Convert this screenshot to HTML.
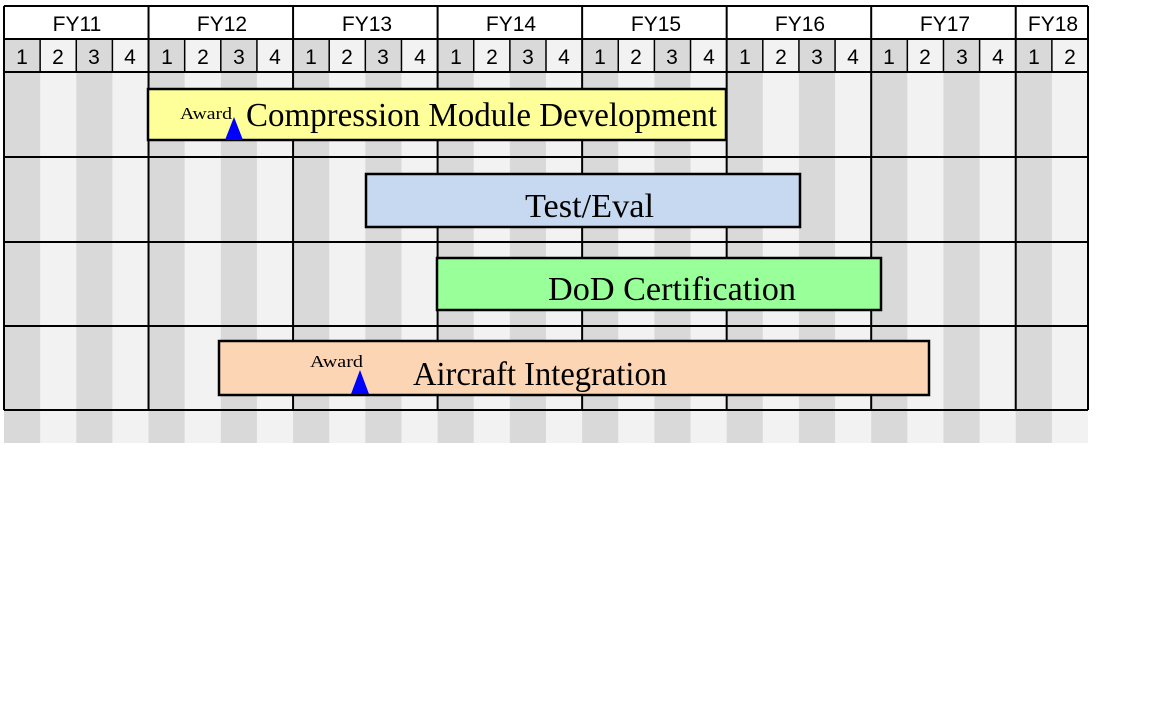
<!DOCTYPE html>
<html><head><meta charset="utf-8"><style>html,body{margin:0;padding:0;background:#fff;}svg{display:block;}</style></head>
<body>
<svg width="1152" height="720" xmlns="http://www.w3.org/2000/svg">
<rect x="0" y="0" width="1152" height="720" fill="#fff"/>
<rect x="4" y="39" width="1084" height="404" fill="#f2f2f2"/>
<g fill="#d9d9d9">
<rect x="4" y="39" width="36.13" height="404"/>
<rect x="76.27" y="39" width="36.13" height="404"/>
<rect x="148.53" y="39" width="36.13" height="404"/>
<rect x="220.8" y="39" width="36.13" height="404"/>
<rect x="293.07" y="39" width="36.13" height="404"/>
<rect x="365.33" y="39" width="36.13" height="404"/>
<rect x="437.6" y="39" width="36.13" height="404"/>
<rect x="509.87" y="39" width="36.13" height="404"/>
<rect x="582.13" y="39" width="36.13" height="404"/>
<rect x="654.4" y="39" width="36.13" height="404"/>
<rect x="726.67" y="39" width="36.13" height="404"/>
<rect x="798.93" y="39" width="36.13" height="404"/>
<rect x="871.2" y="39" width="36.13" height="404"/>
<rect x="943.47" y="39" width="36.13" height="404"/>
<rect x="1015.73" y="39" width="36.13" height="404"/>
</g>
<g stroke="#000" stroke-width="1.5">
<line x1="40.13" y1="39" x2="40.13" y2="72"/><line x1="76.27" y1="39" x2="76.27" y2="72"/><line x1="112.4" y1="39" x2="112.4" y2="72"/>
<line x1="184.67" y1="39" x2="184.67" y2="72"/><line x1="220.8" y1="39" x2="220.8" y2="72"/><line x1="256.93" y1="39" x2="256.93" y2="72"/>
<line x1="329.2" y1="39" x2="329.2" y2="72"/><line x1="365.33" y1="39" x2="365.33" y2="72"/><line x1="401.47" y1="39" x2="401.47" y2="72"/>
<line x1="473.73" y1="39" x2="473.73" y2="72"/><line x1="509.87" y1="39" x2="509.87" y2="72"/><line x1="546" y1="39" x2="546" y2="72"/>
<line x1="618.27" y1="39" x2="618.27" y2="72"/><line x1="654.4" y1="39" x2="654.4" y2="72"/><line x1="690.53" y1="39" x2="690.53" y2="72"/>
<line x1="762.8" y1="39" x2="762.8" y2="72"/><line x1="798.93" y1="39" x2="798.93" y2="72"/><line x1="835.07" y1="39" x2="835.07" y2="72"/>
<line x1="907.33" y1="39" x2="907.33" y2="72"/><line x1="943.47" y1="39" x2="943.47" y2="72"/><line x1="979.6" y1="39" x2="979.6" y2="72"/>
<line x1="1051.87" y1="39" x2="1051.87" y2="72"/>
</g>
<g stroke="#000" stroke-width="2">
<line x1="4" y1="6" x2="4" y2="410"/>
<line x1="148.53" y1="6" x2="148.53" y2="410"/>
<line x1="293.07" y1="6" x2="293.07" y2="410"/>
<line x1="437.6" y1="6" x2="437.6" y2="410"/>
<line x1="582.13" y1="6" x2="582.13" y2="410"/>
<line x1="726.67" y1="6" x2="726.67" y2="410"/>
<line x1="871.2" y1="6" x2="871.2" y2="410"/>
<line x1="1015.73" y1="6" x2="1015.73" y2="410"/>
<line x1="1088" y1="6" x2="1088" y2="410"/>
<line x1="4" y1="6" x2="1088" y2="6"/>
<line x1="4" y1="39" x2="1088" y2="39"/>
<line x1="4" y1="72" x2="1088" y2="72"/>
<line x1="4" y1="157" x2="1088" y2="157"/>
<line x1="4" y1="242" x2="1088" y2="242"/>
<line x1="4" y1="326" x2="1088" y2="326"/>
<line x1="4" y1="410" x2="1088" y2="410"/>
</g>
<g font-family="Liberation Sans, sans-serif" font-size="21" text-anchor="middle" fill="#000">
<text x="77" y="31">FY11</text><text x="222" y="31">FY12</text><text x="367" y="31">FY13</text><text x="511" y="31">FY14</text>
<text x="656" y="31">FY15</text><text x="800" y="31">FY16</text><text x="945" y="31">FY17</text><text x="1053" y="31">FY18</text>
</g>
<g font-family="Liberation Sans, sans-serif" font-size="21" text-anchor="middle" fill="#000">
<text x="22" y="64">1</text><text x="58" y="64">2</text><text x="94" y="64">3</text><text x="130" y="64">4</text>
<text x="167" y="64">1</text><text x="203" y="64">2</text><text x="239" y="64">3</text><text x="275" y="64">4</text>
<text x="311" y="64">1</text><text x="347" y="64">2</text><text x="383" y="64">3</text><text x="420" y="64">4</text>
<text x="456" y="64">1</text><text x="492" y="64">2</text><text x="528" y="64">3</text><text x="564" y="64">4</text>
<text x="600" y="64">1</text><text x="636" y="64">2</text><text x="672" y="64">3</text><text x="709" y="64">4</text>
<text x="745" y="64">1</text><text x="781" y="64">2</text><text x="817" y="64">3</text><text x="853" y="64">4</text>
<text x="889" y="64">1</text><text x="925" y="64">2</text><text x="962" y="64">3</text><text x="998" y="64">4</text>
<text x="1034" y="64">1</text><text x="1070" y="64">2</text>
</g>
<g stroke="#000" stroke-width="2.5">
<rect x="148" y="89" width="578" height="51" fill="#ffff99"/>
<rect x="366" y="174" width="434" height="53" fill="#c6d9f1"/>
<rect x="437" y="258" width="444" height="52" fill="#99ff99"/>
<rect x="219" y="341" width="710" height="54" fill="#fcd5b5"/>
</g>
<g font-family="Liberation Serif, serif" font-size="34" fill="#000">
<text x="246" y="126" textLength="471" lengthAdjust="spacingAndGlyphs">Compression Module Development</text>
<text x="525" y="217" textLength="129" lengthAdjust="spacingAndGlyphs">Test/Eval</text>
<text x="548" y="300" textLength="248" lengthAdjust="spacingAndGlyphs">DoD Certification</text>
<text x="413" y="385" textLength="254" lengthAdjust="spacingAndGlyphs">Aircraft Integration</text>
</g>
<g font-family="Liberation Serif, serif" font-size="17" fill="#000">
<text x="180" y="119" textLength="52" lengthAdjust="spacingAndGlyphs">Award</text>
<text x="310" y="367" textLength="53" lengthAdjust="spacingAndGlyphs">Award</text>
</g>
<polygon points="225,140 243,140 234,117" fill="#0000ff"/>
<polygon points="351,394 369,394 360,370" fill="#0000ff"/>
</svg>
</body></html>
